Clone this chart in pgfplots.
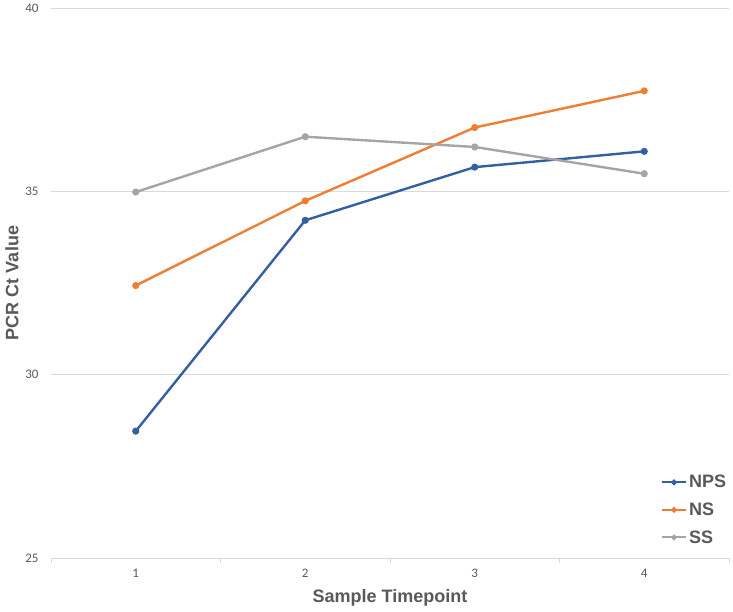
\documentclass[border=0pt]{standalone}
\usepackage{pgfplots}
\pgfplotsset{compat=1.18}
\usepackage{fontspec}
\setmainfont{Liberation Sans}
\newfontfamily\tickfont{Carlito}

\definecolor{npsblue}{RGB}{52,95,160}
\definecolor{nsorange}{RGB}{240,125,52}
\definecolor{ssgray}{RGB}{165,165,165}
\definecolor{labgray}{RGB}{89,89,89}
\definecolor{gridgray}{RGB}{217,217,217}

\begin{document}
\begin{tikzpicture}
\path[use as bounding box] (-51pt,-53pt) rectangle (682pt,558pt);
\begin{axis}[
    scale only axis,
    width=678pt, height=550pt,
    xmin=0.5, xmax=4.5,
    ymin=25, ymax=40,
    xtick={1,2,3,4},
    xticklabels={1,2,3,4},
    minor xtick={0.5,1.5,2.5,3.5,4.5},
    ytick={25,30,35,40},
    yticklabels={25,30,35,40},
    major tick length=0pt,
    minor tick length=5pt,
    tick align=outside,
    axis x line*=bottom,
    axis y line*=left,
    x axis line style={draw=gridgray, line width=0.8pt, -},
    y axis line style={draw=none},
    minor tick style={draw=gridgray, line width=0.8pt},
    ymajorgrids=true,
    grid style={draw=gridgray, line width=0.8pt},
    tick label style={font=\tickfont\fontsize{13}{15}\selectfont, text=labgray},
    yticklabel style={xshift=-9pt},
    xticklabel style={yshift=-8pt},
    xlabel={Sample Timepoint},
    ylabel={PCR Ct Value},
    label style={font=\bfseries\fontsize{18}{20}\selectfont, text=labgray},
    xlabel style={at={(axis description cs:0.5,0)}, anchor=center, yshift=-40pt},
    ylabel style={at={(axis description cs:0,0.5)}, anchor=center, xshift=0pt, yshift=39pt},
    every axis plot/.append style={line width=2.4pt, mark=*, mark size=2.3pt},
    legend style={draw=none, fill=none, at={(0.895,0.158)}, anchor=north west,
        font=\bfseries\fontsize{18}{20}\selectfont, text=labgray,
        row sep=9.5pt, legend cell align=left},
    legend image code/.code={\draw[mark repeat=2, mark phase=2, #1, line width=2pt, mark size=1.8pt]
        plot coordinates {(0pt,0pt) (12pt,0pt) (24pt,0pt)};},
]
\addplot[color=npsblue] coordinates {(1,28.46) (2,34.21) (3,35.66) (4,36.09)};
\addplot[color=nsorange] coordinates {(1,32.43) (2,34.74) (3,36.74) (4,37.74)};
\addplot[color=ssgray] coordinates {(1,34.98) (2,36.49) (3,36.21) (4,35.48)};
\legend{NPS, NS, SS}
\end{axis}
\end{tikzpicture}
\end{document}
